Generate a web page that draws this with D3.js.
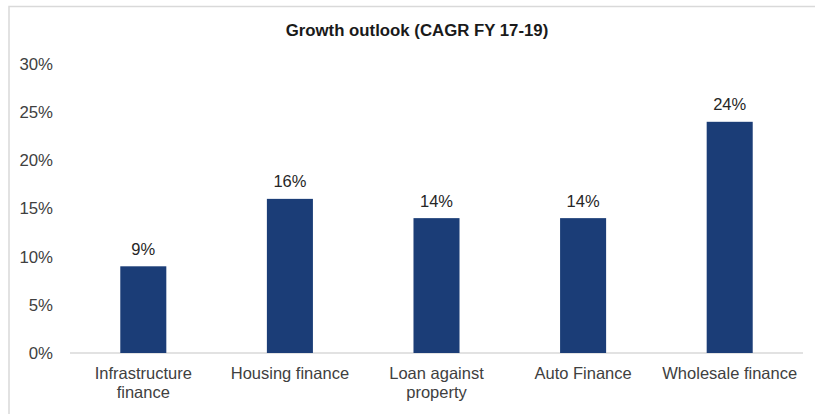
<!DOCTYPE html>
<html>
<head>
<meta charset="utf-8">
<script src="https://cdn.jsdelivr.net/npm/d3@7"></script>
<style>
  body { margin: 0; background: #fff; }
  svg { display: block; font-family: "Liberation Sans", Arial, sans-serif; }
</style>
</head>
<body>
<svg id="chart" width="815" height="414"></svg>
<script>
// chart data
var categories = ["Infrastructure finance", "Housing finance", "Loan against property", "Auto Finance", "Wholesale finance"];
var categoryLines = [["Infrastructure", "finance"], ["Housing finance"], ["Loan against", "property"], ["Auto Finance"], ["Wholesale finance"]];
var growth = [9, 16, 14, 14, 24];
var yTicks = [0, 5, 10, 15, 20, 25, 30];
var title = "Growth outlook (CAGR FY 17-19)";

var svg = d3.select("#chart");

// outer frame (only top and left edges are visible in the picture)
svg.append("rect")
    .attr("x", 9).attr("y", 6.5)
    .attr("width", 830).attr("height", 440)
    .attr("fill", "none")
    .attr("stroke", "#d9d9d9")
    .attr("stroke-width", 1.5);

svg.append("text")
    .attr("x", 417).attr("y", 36)
    .attr("text-anchor", "middle")
    .attr("font-size", "16.8px")
    .attr("font-weight", "bold")
    .attr("fill", "#1a1a1a")
    .text(title);

var x = d3.scaleBand()
    .domain(categories)
    .range([70, 803])
    .paddingInner(0.686)
    .paddingOuter(0.343);

var y = d3.scaleLinear()
    .domain([0, 30])
    .range([353, 64]);

// y axis labels
var yAxis = svg.append("g")
    .attr("transform", "translate(53,0)")
    .call(d3.axisLeft(y).tickValues(yTicks).tickFormat(function(d){ return d + "%"; }).tickSize(0).tickPadding(0));
yAxis.select(".domain").remove();
yAxis.selectAll("text")
    .attr("font-size", "16.8px")
    .attr("font-family", "'Liberation Sans', Arial, sans-serif")
    .attr("fill", "#404040");

// baseline
svg.append("line")
    .attr("x1", 70).attr("x2", 803)
    .attr("y1", y(0)).attr("y2", y(0))
    .attr("stroke", "#d9d9d9")
    .attr("stroke-width", 1.5);

// bars
svg.selectAll("rect.bar")
    .data(growth)
    .enter().append("rect")
    .attr("class", "bar")
    .attr("x", function(d, i){ return x(categories[i]); })
    .attr("width", x.bandwidth())
    .attr("y", function(d){ return y(d); })
    .attr("height", function(d){ return y(0) - y(d); })
    .attr("fill", "#1b3d77");

// value labels
svg.selectAll("text.val")
    .data(growth)
    .enter().append("text")
    .attr("class", "val")
    .attr("x", function(d, i){ return x(categories[i]) + x.bandwidth() / 2; })
    .attr("y", function(d){ return y(d) - 11.5; })
    .attr("text-anchor", "middle")
    .attr("font-size", "16.5px")
    .attr("fill", "#262626")
    .text(function(d){ return d + "%"; });

// category labels
var cat = svg.selectAll("text.cat")
    .data(categoryLines)
    .enter().append("text")
    .attr("class", "cat")
    .attr("text-anchor", "middle")
    .attr("font-size", "16.5px")
    .attr("fill", "#404040")
    .attr("transform", function(d, i){ return "translate(" + (x(categories[i]) + x.bandwidth() / 2) + ",379)"; });
cat.selectAll("tspan")
    .data(function(d){ return d; })
    .enter().append("tspan")
    .attr("x", 0)
    .attr("y", function(d, j){ return j * 19; })
    .text(function(d){ return d; });
</script>
</body>
</html>
